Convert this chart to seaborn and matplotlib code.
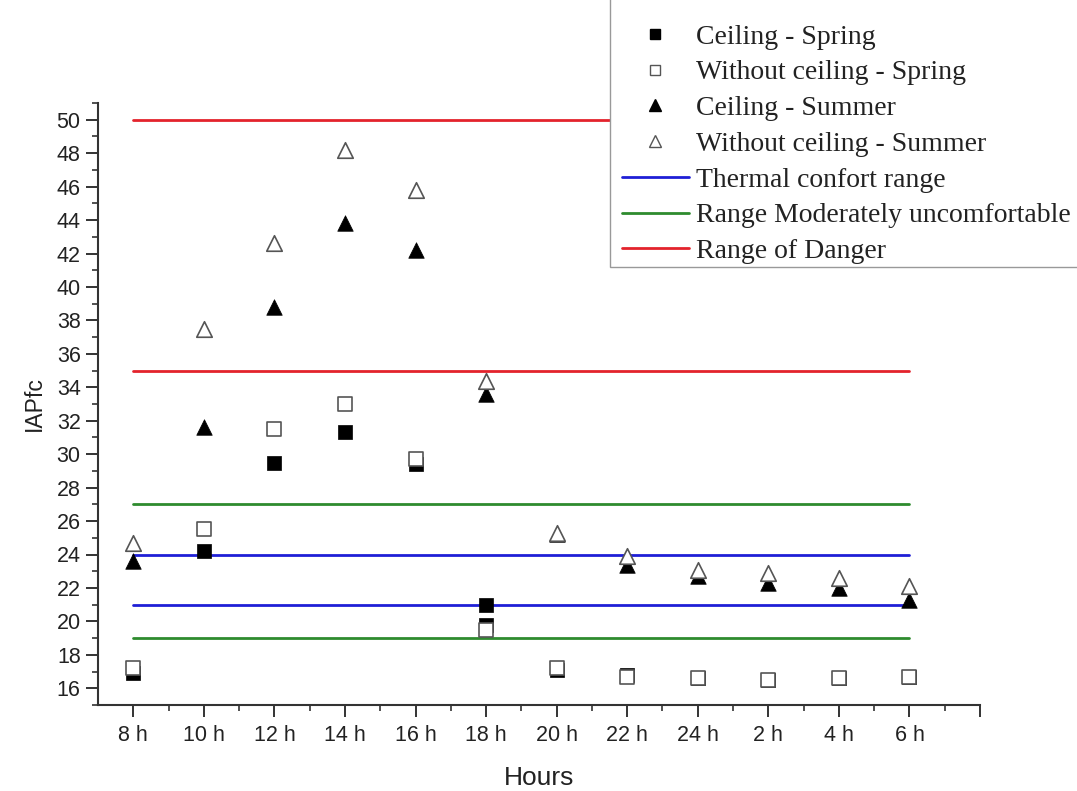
import matplotlib
matplotlib.use("Agg")
import matplotlib.pyplot as plt
import seaborn as sns
import pandas as pd
from matplotlib.lines import Line2D
from matplotlib.patches import Rectangle
from matplotlib.ticker import MultipleLocator, FixedLocator

# ---------------- data ----------------
hours = ["8 h", "10 h", "12 h", "14 h", "16 h", "18 h", "20 h",
         "22 h", "24 h", "2 h", "4 h", "6 h"]

ceiling_spring_hours = hours + ["18 h"]
ceiling_spring = [16.9, 24.2, 29.5, 31.3, 29.4, 19.8, 17.1, 16.8, 16.6, 16.5, 16.6, 16.7, 21.0]
without_spring = [17.2, 25.5, 31.5, 33.0, 29.7, 19.5, 17.2, 16.7, 16.6, 16.5, 16.6, 16.7]
ceiling_summer = [23.6, 31.6, 38.8, 43.8, 42.2, 33.6, 25.2, 23.4, 22.7, 22.3, 22.0, 21.3]
without_summer = [24.7, 37.5, 42.6, 48.2, 45.8, 34.4, 25.3, 23.9, 23.1, 22.9, 22.6, 22.1]

comfort_range = [21, 24]
moderate_range = [19, 27]
danger_range = [35, 50]

# ---------------- style ----------------
sns.set_style("ticks")
plt.rcParams["font.family"] = ["Liberation Sans", "DejaVu Sans"]

fig = plt.figure(figsize=(10.77, 7.91), dpi=100)
ax = fig.add_axes([98 / 1077, 1 - 705 / 791, (980 - 98) / 1077, (705 - 103) / 791])

pos = {h: i for i, h in enumerate(hours)}
x_first, x_last = 0, len(hours) - 1

# reference ranges
line_specs = [(comfort_range, "#1f1fd6", "Thermal confort range"),
              (moderate_range, "#2e8b2e", "Range Moderately uncomfortable"),
              (danger_range, "#e3232c", "Range of Danger")]
for vals, col, lab in line_specs:
    for v in vals:
        sns.lineplot(x=[x_first, x_last], y=[v, v], color=col, lw=2.0, ax=ax,
                     zorder=1)

# scatter series
df_cs = pd.DataFrame({"x": [pos[h] for h in ceiling_spring_hours], "y": ceiling_spring})
df_ws = pd.DataFrame({"x": [pos[h] for h in hours], "y": without_spring})
df_cu = pd.DataFrame({"x": [pos[h] for h in hours], "y": ceiling_summer})
df_wu = pd.DataFrame({"x": [pos[h] for h in hours], "y": without_summer})

sns.scatterplot(data=df_cs, x="x", y="y", marker="s", s=95, color="black",
                edgecolor="black", linewidth=0.5, ax=ax, zorder=3)
sns.scatterplot(data=df_ws, x="x", y="y", marker="s", s=95, color="white",
                edgecolor="#555555", linewidth=1.2, ax=ax, zorder=4)
sns.scatterplot(data=df_cu, x="x", y="y", marker="^", s=125, color="black",
                edgecolor="black", linewidth=0.5, ax=ax, zorder=3)
sns.scatterplot(data=df_wu, x="x", y="y", marker="^", s=125, color="white",
                edgecolor="#555555", linewidth=1.2, ax=ax, zorder=4)

# ---------------- axes ----------------
ax.set_xlim(-0.5, len(hours))
ax.set_ylim(15, 51)
ax.xaxis.set_major_locator(FixedLocator(list(range(len(hours) + 1))))
ax.set_xticklabels(hours + [""])
ax.xaxis.set_minor_locator(FixedLocator([i + 0.5 for i in range(len(hours))]))
ax.yaxis.set_major_locator(FixedLocator(list(range(16, 51, 2))))
ax.yaxis.set_minor_locator(MultipleLocator(1))

for s in ["top", "right"]:
    ax.spines[s].set_visible(False)
for s in ["left", "bottom"]:
    ax.spines[s].set_color("#333333")
    ax.spines[s].set_linewidth(1.5)

ax.tick_params(axis="both", which="major", length=8.5, width=1.4, color="#333333",
               labelsize=15.5, labelcolor="#222222", direction="out", pad=4)
ax.tick_params(axis="both", which="minor", length=4.5, width=1.2, color="#333333",
               direction="out")
ax.tick_params(axis="x", which="major", pad=6)

ax.set_xlabel("Hours", fontsize=19, color="#222222", labelpad=14)
ax.set_ylabel("IAPfc", fontsize=16.5, color="#222222", labelpad=8)

# ---------------- legend ----------------
# frame of the legend box (runs off the top and right edges of the figure)
frame = Rectangle((610 / 1077, 1 - 267 / 791), 0.6, 0.6, transform=fig.transFigure,
                  facecolor="white", edgecolor="#999999", linewidth=1.0, zorder=4.5)
fig.patches.append(frame)

handles = [
    Line2D([], [], ls="none", marker="s", markersize=7, mfc="black", mec="black"),
    Line2D([], [], ls="none", marker="s", markersize=7, mfc="white", mec="#555555"),
    Line2D([], [], ls="none", marker="^", markersize=8, mfc="black", mec="black"),
    Line2D([], [], ls="none", marker="^", markersize=8, mfc="white", mec="#555555"),
    Line2D([], [], color=line_specs[0][1], lw=2),
    Line2D([], [], color=line_specs[1][1], lw=2),
    Line2D([], [], color=line_specs[2][1], lw=2),
]
labels = ["Ceiling - Spring", "Without ceiling - Spring", "Ceiling - Summer",
          "Without ceiling - Summer", line_specs[0][2], line_specs[1][2], line_specs[2][2]]
leg = fig.legend(handles, labels, loc="lower left",
                 bbox_to_anchor=(622 / 1077, 1 - 264 / 791),
                 bbox_transform=fig.transFigure,
                 prop={"family": "Liberation Serif", "size": 20},
                 frameon=False, borderaxespad=0, borderpad=0,
                 handlelength=2.4, handletextpad=0.28, labelspacing=0.37)
leg.set_zorder(5)
for t in leg.get_texts():
    t.set_color("#222222")

fig.savefig("out.png", dpi=100)
